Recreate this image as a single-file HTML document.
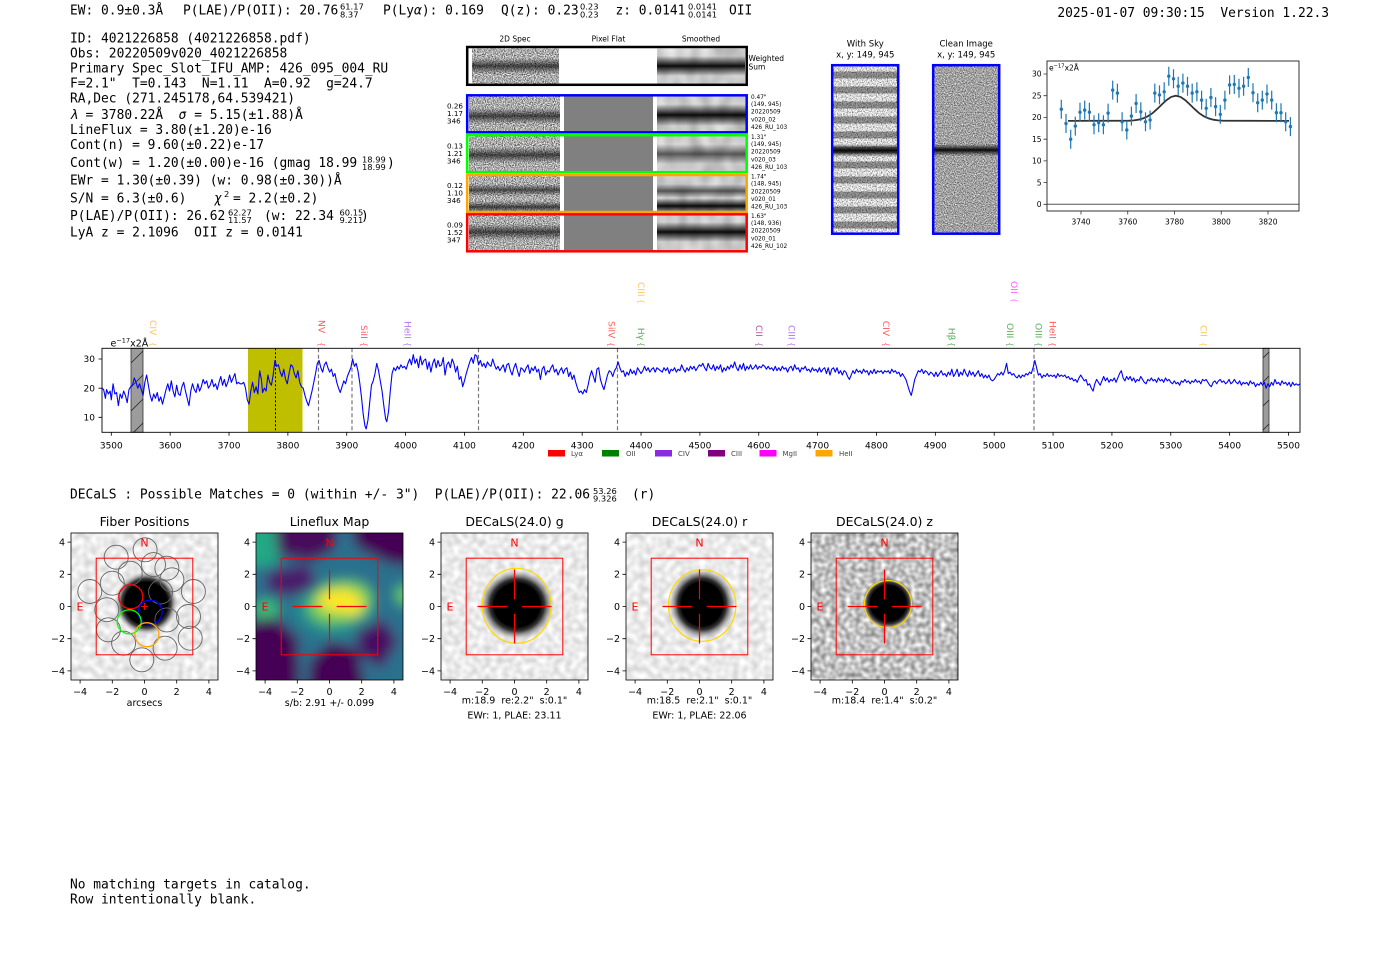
<!DOCTYPE html>
<html><head><meta charset="utf-8">
<style>
html,body{margin:0;padding:0;background:#fff;}
body{width:1400px;height:953px;overflow:hidden;}
svg{display:block}
text{white-space:pre;}
.m{font-family:"DejaVu Sans Mono","Liberation Mono",monospace;font-size:12.9px;fill:#000}
.s{font-family:"DejaVu Sans","Liberation Sans",sans-serif;}
.f{font-family:"DejaVu Sans","Liberation Sans",sans-serif;font-size:8.3px;fill:#000}
.t9{font-family:"DejaVu Sans","Liberation Sans",sans-serif;font-size:9.5px;fill:#000}
.t7{font-family:"DejaVu Sans","Liberation Sans",sans-serif;font-size:7.5px;fill:#000}
.t6{font-family:"DejaVu Sans","Liberation Sans",sans-serif;font-size:5.8px;fill:#000}
.ti{font-family:"DejaVu Sans","Liberation Sans",sans-serif;font-size:12.5px;fill:#000}
.ne{font-family:"DejaVu Sans","Liberation Sans",sans-serif;font-size:11px;fill:#ff0000}
</style></head><body>
<svg width="1400" height="953" viewBox="0 0 1400 953" xml:space="preserve">
<defs>
<filter id="n2d" x="0" y="0" width="1" height="1" color-interpolation-filters="sRGB">
<feTurbulence type="fractalNoise" baseFrequency="0.9" numOctaves="2" seed="3"/>
<feColorMatrix type="matrix" values="1.5 0 0 0 -0.08 1.5 0 0 0 -0.08 1.5 0 0 0 -0.08 0 0 0 0 1"/>
</filter>
<filter id="nsk" x="0" y="0" width="1" height="1" color-interpolation-filters="sRGB">
<feTurbulence type="fractalNoise" baseFrequency="0.8" numOctaves="2" seed="9"/>
<feColorMatrix type="matrix" values="1.4 0 0 0 0.15 1.4 0 0 0 0.15 1.4 0 0 0 0.15 0 0 0 0 1"/>
</filter>
<filter id="nsm" x="0" y="0" width="1" height="1" color-interpolation-filters="sRGB">
<feTurbulence type="fractalNoise" baseFrequency="0.09 0.05" numOctaves="1" seed="5"/>
<feColorMatrix type="matrix" values="0.35 0 0 0 0.62 0.35 0 0 0 0.62 0.35 0 0 0 0.62 0 0 0 0 1"/>
</filter>
<filter id="ncl" x="0" y="0" width="1" height="1" color-interpolation-filters="sRGB">
<feTurbulence type="fractalNoise" baseFrequency="0.9" numOctaves="2" seed="7"/>
<feColorMatrix type="matrix" values="1.2 0 0 0 0.03 1.2 0 0 0 0.03 1.2 0 0 0 0.03 0 0 0 0 1"/>
</filter>
<filter id="nlt" x="0" y="0" width="1" height="1" color-interpolation-filters="sRGB">
<feTurbulence type="fractalNoise" baseFrequency="0.15" numOctaves="1" seed="11"/>
<feColorMatrix type="matrix" values="0.3 0 0 0 0.77 0.3 0 0 0 0.77 0.3 0 0 0 0.77 0 0 0 0 1"/>
</filter>
<filter id="nlt2" x="0" y="0" width="1" height="1" color-interpolation-filters="sRGB">
<feTurbulence type="fractalNoise" baseFrequency="0.16" numOctaves="1" seed="21"/>
<feColorMatrix type="matrix" values="0.3 0 0 0 0.77 0.3 0 0 0 0.77 0.3 0 0 0 0.77 0 0 0 0 1"/>
</filter>
<filter id="nz" x="0" y="0" width="1" height="1" color-interpolation-filters="sRGB">
<feTurbulence type="fractalNoise" baseFrequency="0.2" numOctaves="1" seed="13"/>
<feColorMatrix type="matrix" values="0.8 0 0 0 0.36 0.8 0 0 0 0.36 0.8 0 0 0 0.36 0 0 0 0 1"/>
</filter>
<filter id="bl6" x="-0.2" y="-0.2" width="1.4" height="1.4"><feGaussianBlur stdDeviation="6"/></filter>
<linearGradient id="bd" x1="0" y1="0" x2="0" y2="1"><stop offset="0" stop-color="#000" stop-opacity="0"/><stop offset="0.5" stop-color="#000" stop-opacity="0.65"/><stop offset="1" stop-color="#000" stop-opacity="0"/></linearGradient>
<linearGradient id="bd2" x1="0" y1="0" x2="0" y2="1"><stop offset="0" stop-color="#000" stop-opacity="0"/><stop offset="0.5" stop-color="#000" stop-opacity="0.95"/><stop offset="1" stop-color="#000" stop-opacity="0"/></linearGradient>
<linearGradient id="bd3" x1="0" y1="0" x2="0" y2="1"><stop offset="0" stop-color="#000" stop-opacity="0"/><stop offset="0.5" stop-color="#000" stop-opacity="0.6"/><stop offset="1" stop-color="#000" stop-opacity="0"/></linearGradient>
<radialGradient id="blob"><stop offset="0" stop-color="#000"/><stop offset="0.66" stop-color="#000"/><stop offset="0.78" stop-color="#444"/><stop offset="0.9" stop-color="#999" stop-opacity="0.5"/><stop offset="1" stop-color="#ccc" stop-opacity="0"/></radialGradient>
<radialGradient id="blob2"><stop offset="0" stop-color="#000"/><stop offset="0.6" stop-color="#000"/><stop offset="0.72" stop-color="#333"/><stop offset="0.86" stop-color="#888" stop-opacity="0.6"/><stop offset="1" stop-color="#ccc" stop-opacity="0"/></radialGradient>
<radialGradient id="blob3"><stop offset="0" stop-color="#000"/><stop offset="0.68" stop-color="#000"/><stop offset="0.8" stop-color="#333"/><stop offset="0.92" stop-color="#777" stop-opacity="0.5"/><stop offset="1" stop-color="#999" stop-opacity="0"/></radialGradient>
<pattern id="sky" patternUnits="userSpaceOnUse" x="831" y="71.5" width="68" height="15"><rect width="68" height="7" fill="#000" fill-opacity="0.38"/></pattern>
<clipPath id="cp"><rect x="0" y="0" width="147" height="147"/></clipPath>
<clipPath id="spc"><rect x="102" y="348.3" width="1198" height="84"/></clipPath>
</defs>

<!-- ===== Top header line ===== -->
<text class="m" x="70" y="14.5">EW: 0.9±0.3Å</text>
<text class="m" x="183" y="14.5">P(LAE)/P(OII): 20.76</text>
<text class="f" x="340" y="9.5">61.17</text>
<text class="f" x="340" y="17.5">8.37</text>
<text class="m" x="383" y="14.5">P(Ly<tspan font-style="italic">α</tspan>): 0.169</text>
<text class="m" x="501" y="14.5">Q(z): 0.23</text>
<text class="f" x="580" y="9.5">0.23</text>
<text class="f" x="580" y="17.5">0.23</text>
<text class="m" x="615.5" y="14.5">z: 0.0141</text>
<text class="f" x="688" y="9.5">0.0141</text>
<text class="f" x="688" y="17.5">0.0141</text>
<text class="m" x="729" y="14.5">OII</text>
<text class="m" x="1329" y="17" text-anchor="end">2025-01-07 09:30:15  Version 1.22.3</text>

<!-- ===== Left text block ===== -->
<text class="m" x="70" y="42.5">ID: 4021226858 (4021226858.pdf)</text>
<text class="m" x="70" y="57.5">Obs: 20220509v020_4021226858</text>
<text class="m" x="70" y="72.5">Primary Spec_Slot_IFU_AMP: 426_095_004_RU</text>
<text class="m" x="70" y="87.5">F=2.1"  T=0.143  N=1.11  A=0.92  g=24.7</text>
<text class="m" x="70" y="102.5">RA,Dec (271.245178,64.539421)</text>
<text class="m" x="70" y="119"><tspan font-style="italic">λ</tspan> = 3780.22Å  <tspan font-style="italic">σ</tspan> = 5.15(±1.88)Å</text>
<text class="m" x="70" y="134">LineFlux = 3.80(±1.20)e-16</text>
<text class="m" x="70" y="149">Cont(n) = 9.60(±0.22)e-17</text>
<text class="m" x="70" y="167">Cont(w) = 1.20(±0.00)e-16 (gmag 18.99</text>
<text class="f" x="362" y="162.5">18.99</text>
<text class="f" x="362" y="170">18.99</text>
<text class="m" x="387" y="167">)</text>
<text class="m" x="70" y="184.5">EWr = 1.30(±0.39) (w: 0.98(±0.30))Å</text>
<text class="m" x="70" y="202.5">S/N = 6.3(±0.6)</text>
<text class="m" x="214" y="202.5" font-style="italic">χ</text>
<text class="f" x="224" y="197">2</text>
<text class="m" x="233" y="202.5">= 2.2(±0.2)</text>
<text class="m" x="70" y="220">P(LAE)/P(OII): 26.62</text>
<text class="f" x="228" y="215.5">62.27</text>
<text class="f" x="228" y="223">11.57</text>
<text class="m" x="264" y="220">(w: 22.34</text>
<text class="f" x="339.5" y="215.5">60.15</text>
<text class="f" x="339.5" y="223">9.211</text>
<text class="m" x="361" y="220">)</text>
<text class="m" x="70" y="236.5">LyA z = 2.1096  OII z = 0.0141</text>

<!-- ===== 2D cutouts ===== -->
<text class="t7" x="515" y="41.5" text-anchor="middle">2D Spec</text>
<text class="t7" x="608.5" y="41.5" text-anchor="middle">Pixel Flat</text>
<text class="t7" x="701" y="41.5" text-anchor="middle">Smoothed</text>

<!-- weighted sum -->
<rect x="472" y="48.5" width="87" height="35" fill="#fff" filter="url(#n2d)"/>
<rect x="472" y="58" width="87" height="16" fill="url(#bd)"/>
<rect x="657" y="48.5" width="88" height="35" fill="#fff" filter="url(#nsm)"/>
<rect x="657" y="56" width="88" height="20" fill="url(#bd2)"/>
<rect x="467.2" y="47" width="279.5" height="37.8" fill="none" stroke="#000" stroke-width="2.5"/>
<text class="t7" x="748.5" y="61">Weighted</text>
<text class="t7" x="748.5" y="69.5">Sum</text>

<!-- blue row -->
<rect x="469" y="95.8" width="91" height="35.5" fill="#fff" filter="url(#n2d)"/>
<rect x="469" y="108" width="91" height="16" fill="url(#bd)"/>
<rect x="564" y="95.8" width="89" height="35.5" fill="#808080"/>
<rect x="657" y="95.8" width="89" height="35.5" fill="#fff" filter="url(#nsm)"/>
<rect x="657" y="104" width="89" height="22" fill="url(#bd2)"/>
<rect x="467.2" y="95.3" width="279.5" height="37" fill="none" stroke="#0000ff" stroke-width="2.5"/>
<!-- green row -->
<rect x="469" y="135.5" width="91" height="35.5" fill="#fff" filter="url(#n2d)"/>
<rect x="469" y="147" width="91" height="16" fill="url(#bd)"/>
<rect x="564" y="135.5" width="89" height="35.5" fill="#808080"/>
<rect x="657" y="135.5" width="89" height="35.5" fill="#fff" filter="url(#nsm)"/>
<rect x="657" y="144" width="89" height="20" fill="url(#bd3)"/>
<rect x="467.2" y="135.2" width="279.5" height="37" fill="none" stroke="#00ff00" stroke-width="2.5"/>
<!-- orange row -->
<rect x="469" y="175.5" width="91" height="35.5" fill="#fff" filter="url(#n2d)"/>
<rect x="469" y="184" width="91" height="12" fill="url(#bd3)"/>
<rect x="469" y="201" width="91" height="12" fill="url(#bd)"/>
<rect x="564" y="175.5" width="89" height="35.5" fill="#808080"/>
<rect x="657" y="175.5" width="89" height="35.5" fill="#fff" filter="url(#nsm)"/>
<rect x="657" y="184" width="89" height="14" fill="url(#bd3)"/>
<rect x="657" y="198" width="89" height="16" fill="url(#bd2)"/>
<rect x="467.2" y="175" width="279.5" height="37" fill="none" stroke="#ffa500" stroke-width="2.5"/>
<!-- red row -->
<rect x="469" y="214.7" width="91" height="35.5" fill="#fff" filter="url(#n2d)"/>
<rect x="469" y="224" width="91" height="16" fill="url(#bd)"/>
<rect x="564" y="214.7" width="89" height="35.5" fill="#808080"/>
<rect x="657" y="214.7" width="89" height="35.5" fill="#fff" filter="url(#nsm)"/>
<rect x="657" y="222" width="89" height="20" fill="url(#bd2)"/>
<rect x="467.2" y="214.3" width="279.5" height="37" fill="none" stroke="#ff0000" stroke-width="2.5"/>

<!-- left labels -->
<g class="s" font-size="7.2" fill="#000">
<text x="447" y="108.5">0.26</text><text x="447" y="116">1.17</text><text x="447" y="123.5">346</text>
<text x="447" y="148.5">0.13</text><text x="447" y="156">1.21</text><text x="447" y="163.5">346</text>
<text x="447" y="188">0.12</text><text x="447" y="195.5">1.10</text><text x="447" y="203">346</text>
<text x="447" y="227.5">0.09</text><text x="447" y="235">1.52</text><text x="447" y="242.5">347</text>
</g>
<!-- right labels -->
<g class="t6">
<text x="751" y="98.8">0.47"</text><text x="751" y="106">(149, 945)</text><text x="751" y="113.7">20220509</text><text x="751" y="121.3">v020_02</text><text x="751" y="129">426_RU_103</text>
<text x="751" y="138.8">1.31"</text><text x="751" y="146">(149, 945)</text><text x="751" y="153.7">20220509</text><text x="751" y="161.3">v020_03</text><text x="751" y="169">426_RU_103</text>
<text x="751" y="178.5">1.74"</text><text x="751" y="185.7">(148, 945)</text><text x="751" y="193.4">20220509</text><text x="751" y="201">v020_01</text><text x="751" y="208.7">426_RU_103</text>
<text x="751" y="217.8">1.63"</text><text x="751" y="225">(148, 936)</text><text x="751" y="232.7">20220509</text><text x="751" y="240.3">v020_01</text><text x="751" y="248">426_RU_102</text>
</g>

<!-- ===== With Sky / Clean ===== -->
<text class="s" font-size="8.5" x="865.3" y="46.5" text-anchor="middle">With Sky</text>
<text class="s" font-size="8.5" x="865.3" y="57.5" text-anchor="middle">x, y: 149, 945</text>
<text class="s" font-size="8.5" x="966.2" y="46.5" text-anchor="middle">Clean Image</text>
<text class="s" font-size="8.5" x="966.2" y="57.5" text-anchor="middle">x, y: 149, 945</text>
<rect x="831" y="65" width="68" height="169" fill="#fff" filter="url(#nsk)"/>
<rect x="831" y="65" width="68" height="169" fill="url(#sky)"/>
<rect x="831" y="144" width="68" height="13" fill="url(#bd2)"/>
<rect x="832.2" y="65.2" width="66" height="168.5" fill="none" stroke="#0000ff" stroke-width="2.5"/>
<rect x="932" y="65" width="68" height="169" fill="#fff" filter="url(#ncl)"/>
<rect x="932" y="144" width="68" height="12" fill="url(#bd2)"/>
<rect x="933.2" y="65.2" width="66" height="168.5" fill="none" stroke="#0000ff" stroke-width="2.5"/>

<!-- ===== Small fit plot ===== -->
<line x1="1047" y1="204.3" x2="1299" y2="204.3" stroke="#555" stroke-width="1"/>
<path d="M1068 120.9L1129.1 120.7L1133.8 120.35L1138.4 119.7L1143.1 118.4L1147.8 116.3L1152.5 113.2L1157.1 109.1L1161.8 104.5L1166.5 100.1L1171.2 96.9L1175.8 95.7L1180.5 96.9L1185.2 100.1L1189.9 104.5L1194.6 109.1L1199.2 113.2L1203.9 116.3L1208.6 118.4L1213.3 119.7L1218 120.35L1222.6 120.7L1289 120.9" fill="none" stroke="#333" stroke-width="1.8"/>
<path d="M1061.3 99.7V118.7M1066 114V133M1070.7 129.7V148.7M1075.3 116.6V135.6M1080 102.7V121.7M1084.7 100.6V119.6M1089.4 102.7V121.7M1094 115.3V134.3M1098.7 113.2V132.2M1103.4 115.3V134.3M1108.1 103.6V122.6M1112.7 80.6V99.6M1117.4 83.6V102.6M1122.1 112.3V131.3M1126.8 120.5V139.5M1131.4 106.6V125.6M1136.1 94V113M1140.8 102.3V121.3M1145.5 112.3V131.3M1150.1 110.5V129.5M1154.8 83.6V102.6M1159.5 85.4V104.4M1164.2 82.3V101.3M1168.8 66.7V85.7M1173.5 69.3V88.3M1178.2 76.7V95.7M1182.9 73.6V92.6M1187.5 76.7V95.7M1192.2 83.6V102.6M1196.9 82.3V101.3M1201.6 90.6V109.6M1206.2 98.8V117.8M1210.9 88V107M1215.6 97.1V116.1M1220.3 104.9V123.9M1224.9 90.6V109.6M1229.6 75.4V94.4M1234.3 74.9V93.9M1239 78.8V97.8M1243.6 76.7V95.7M1248.3 68V87M1253 83.2V102.2M1257.7 93.2V112.2M1262.3 90.6V109.6M1267 84.5V103.5M1271.7 90.6V109.6M1276.4 103.2V122.2M1281 103.2V122.2M1285.7 112.3V131.3M1290.4 117.1V136.1" stroke="#1f77b4" stroke-width="1.2" fill="none"/>
<path d="M1061.3 109.2h0M1066 123.5h0M1070.7 139.2h0M1075.3 126.1h0M1080 112.2h0M1084.7 110.1h0M1089.4 112.2h0M1094 124.8h0M1098.7 122.7h0M1103.4 124.8h0M1108.1 113.1h0M1112.7 90.1h0M1117.4 93.1h0M1122.1 121.8h0M1126.8 130h0M1131.4 116.1h0M1136.1 103.5h0M1140.8 111.8h0M1145.5 121.8h0M1150.1 120h0M1154.8 93.1h0M1159.5 94.9h0M1164.2 91.8h0M1168.8 76.2h0M1173.5 78.8h0M1178.2 86.2h0M1182.9 83.1h0M1187.5 86.2h0M1192.2 93.1h0M1196.9 91.8h0M1201.6 100.1h0M1206.2 108.3h0M1210.9 97.5h0M1215.6 106.6h0M1220.3 114.4h0M1224.9 100.1h0M1229.6 84.9h0M1234.3 84.4h0M1239 88.3h0M1243.6 86.2h0M1248.3 77.5h0M1253 92.7h0M1257.7 102.7h0M1262.3 100.1h0M1267 94h0M1271.7 100.1h0M1276.4 112.7h0M1281 112.7h0M1285.7 121.8h0M1290.4 126.6h0" stroke="#1f77b4" stroke-width="3.4" stroke-linecap="round" fill="none"/>
<rect x="1047" y="61" width="252" height="150" fill="none" stroke="#333" stroke-width="1"/>
<path d="M1081 211v3.5M1127.75 211v3.5M1174.5 211v3.5M1221.25 211v3.5M1268 211v3.5M1047 204.3h-3.5M1047 182.6h-3.5M1047 160.9h-3.5M1047 139.2h-3.5M1047 117.4h-3.5M1047 95.7h-3.5M1047 74h-3.5" stroke="#333" stroke-width="0.8"/>
<g class="t7" text-anchor="middle">
<text x="1081" y="224.5">3740</text><text x="1127.75" y="224.5">3760</text><text x="1174.5" y="224.5">3780</text><text x="1221.25" y="224.5">3800</text><text x="1268" y="224.5">3820</text>
</g>
<g class="t7" text-anchor="end">
<text x="1041.5" y="207">0</text><text x="1041.5" y="185.3">5</text><text x="1041.5" y="163.6">10</text><text x="1041.5" y="141.9">15</text><text x="1041.5" y="120.1">20</text><text x="1041.5" y="98.4">25</text><text x="1041.5" y="76.7">30</text>
</g>
<text class="t7" x="1049" y="70.5">e<tspan font-size="5.2" dy="-3">−17</tspan><tspan dy="3">x2Å</tspan></text>

<!-- ===== Main spectrum ===== -->
<rect x="248" y="348.3" width="54.5" height="84" fill="#bfbf00"/>
<rect x="131" y="348.3" width="12" height="84" fill="#9c9c9c" stroke="#333" stroke-width="0.8"/>
<rect x="1263" y="348.3" width="6" height="84" fill="#9c9c9c" stroke="#333" stroke-width="0.8"/>
<g clip-path="url(#spc)" stroke="#222" stroke-width="0.8">
<path d="M131 363L143 351M131 387L143 375M131 411L143 399M131 435L143 423M1263 358L1269 352M1263 382L1269 376M1263 406L1269 400M1263 430L1269 424"/>
</g>
<g stroke="#777" stroke-width="1.2" stroke-dasharray="4 2.5">
<line x1="318.5" y1="348.3" x2="318.5" y2="432.3"/>
<line x1="352" y1="348.3" x2="352" y2="432.3"/>
<line x1="478.5" y1="348.3" x2="478.5" y2="432.3"/>
<line x1="617.5" y1="348.3" x2="617.5" y2="432.3"/>
<line x1="1034" y1="348.3" x2="1034" y2="432.3"/>
</g>
<line x1="275.5" y1="348.3" x2="275.5" y2="432.3" stroke="#000" stroke-width="1" stroke-dasharray="2 2"/>
<g clip-path="url(#spc)">
<polyline transform="matrix(0.5886 0 0 -2.915 -1948.8 446.45)" vector-effect="non-scaling-stroke" fill="none" stroke="#0000ff" stroke-width="1.1" stroke-linejoin="round" points="3478,20 3484,20 3487,19.5 3490,16.5 3492,19.5 3495,18 3498,19 3500,16 3503,21.5 3506,18 3509,18.5 3512,14 3515,18 3518,16.5 3521,19 3524,17.5 3527,15 3530,19.5 3533,20.5 3536,21 3539,23.5 3542,22 3545,20 3548,21.5 3551,19.5 3554,17.5 3557,22 3560,24.5 3563,21 3566,17.5 3569,15.5 3572,18 3575,16.5 3578,18.5 3581,15.5 3584,17 3587,14.5 3590,17 3593,19.5 3596,21.5 3599,19 3602,22.5 3605,19 3608,17 3611,21 3614,18 3617,17.5 3620,20.5 3623,22 3626,19 3629,16.5 3632,14 3635,19 3638,21.5 3641,19.5 3644,18.5 3647,21.5 3650,19 3653,20.5 3656,23 3659,21.5 3662,22.5 3665,20 3668,21 3671,23 3674,20.5 3677,21.5 3680,19.5 3683,22 3686,24 3689,21 3692,23 3695,20.5 3698,22 3701,24.5 3704,22 3707,23.5 3710,25 3713,21.5 3716,22 3719,21.5 3722,21.5 3725,22 3728,20 3731,16 3734,14.5 3737,19 3740,22 3743,18.5 3746,20.5 3749,18 3752,26 3755,23 3757,18.5 3760,20 3763,19 3766,24.5 3769,22 3772,21 3775,24.5 3778,29.5 3781,27.5 3784,28 3787,25.5 3790,24 3793,26.5 3796,23 3799,21.5 3802,25 3805,28 3808,27.5 3811,25 3814,23.5 3817,26 3820,22 3823,20.5 3826,20 3829,17.5 3832,15.5 3835,14 3838,16.5 3841,19 3844,22 3847,25 3850,28.5 3853,29.5 3856,27 3859,25.5 3862,28 3865,29 3868,27 3871,25.5 3874,26.5 3877,24 3880,25 3883,22 3886,20 3889,18.5 3892,20.5 3895,22.5 3898,21.5 3901,24 3904,25.5 3907,27 3910,30 3913,27.5 3916,28.5 3919,26 3922,22 3925,17 3928,11 3931,7 3933,6 3936,9 3939,15 3942,21 3945,22.5 3948,25 3951,28.5 3954,26 3957,22.5 3960,19 3963,14 3966,9.5 3968,8.5 3971,12 3974,19 3977,25 3980,27 3983,26 3986,27.5 3989,26.5 3992,28 3995,27 3998,27.5 4001,26.5 4004,28.5 4007,30 4010,28 4013,31.5 4016,28.5 4019,30 4022,27 4025,31 4028,28 4031,29.5 4034,30 4037,26.5 4040,29 4043,25.5 4046,28.5 4049,30 4052,27 4055,29.5 4058,27.5 4061,28 4064,30.5 4067,24.5 4070,28 4073,29 4076,27 4079,30 4082,28.5 4085,25.5 4088,27.5 4091,23 4094,24 4097,20.5 4100,22.5 4103,25 4106,27 4109,29 4112,30.5 4115,28.5 4118,31.5 4121,31 4124,28 4127,29.5 4130,27.5 4133,28.5 4136,27 4139,29 4142,28 4145,27.5 4148,30 4151,28 4154,26.5 4157,27.5 4160,26 4163,27 4166,28 4169,25.5 4172,28 4175,28.5 4178,26 4181,24.5 4184,27 4187,28.5 4190,26 4193,24 4196,27 4199,26.5 4202,25.5 4205,27 4208,28 4211,25 4214,27 4217,26 4220,27.5 4223,25.5 4226,26.5 4229,23 4232,26.5 4235,27.5 4238,24.5 4241,26 4244,25.5 4247,27 4250,28 4253,25.5 4256,26.5 4259,24.5 4262,26 4265,27 4268,25 4271,26.5 4274,27 4277,24 4280,25.5 4283,23 4286,24.5 4289,22 4292,20 4295,18.5 4298,19 4301,18 4304,19.5 4307,18.5 4310,21 4313,24 4316,26 4319,24 4322,22 4325,26.5 4328,27 4331,23 4334,21 4337,19.5 4340,22 4343,24.5 4346,26 4349,25.5 4352,24 4355,26 4358,27 4361,29 4364,27 4367,25.5 4370,26 4373,24 4376,25.5 4379,24.5 4382,26.5 4385,25 4388,26 4391,24.5 4394,27 4397,26 4400,25 4403,26 4406,27.5 4409,26 4412,27 4415,25.5 4418,26.5 4421,27 4424,25.5 4427,27 4430,26.5 4433,26 4436,25.5 4439,27 4442,26 4445,27 4448,25 4451,26.5 4454,26 4457,27 4460,25.5 4463,26.5 4466,26 4469,28 4472,26.5 4475,25.5 4478,27 4481,26 4484,27.5 4487,26.5 4490,27.5 4493,26 4496,27 4499,28 4502,27.5 4505,28.5 4508,27 4511,26 4514,28.5 4517,27 4520,26.5 4523,28 4526,26 4529,27.5 4532,26.5 4535,28 4538,25.5 4541,27 4544,26 4547,27.5 4550,26.5 4553,28 4556,27 4559,29 4562,27 4565,26 4568,28 4571,26.5 4574,28.5 4577,26 4580,27.5 4583,26.5 4586,28 4589,26.5 4592,27 4595,28 4598,26.5 4601,27.5 4604,27 4607,28 4610,27.5 4613,26.5 4616,27.5 4619,26.5 4622,27 4625,26 4628,27.5 4631,26 4634,27 4637,26 4640,27.5 4643,26.5 4646,27 4649,25.5 4652,27 4655,27.5 4658,26 4661,28 4664,26.5 4667,27 4670,25.5 4673,27 4676,26.5 4679,27.5 4682,26 4685,26.5 4688,25.5 4691,27 4694,26 4697,26.5 4700,25.5 4703,27 4706,25.5 4709,26.5 4712,27 4715,25 4718,27 4721,24.5 4724,26.5 4727,27 4730,25.5 4733,27 4736,25 4739,26 4742,24.5 4745,26 4748,25.5 4751,24 4754,23 4757,24.5 4760,26 4763,25 4766,26.5 4769,25.5 4772,26 4775,25 4778,26.5 4781,25.5 4784,26 4787,24.5 4790,26 4793,25 4796,26.5 4799,25 4802,26 4805,25.5 4808,26 4811,25 4814,26 4817,25.5 4820,26 4823,25 4826,26.5 4829,25.5 4832,26 4835,25 4838,25.5 4841,24 4844,25 4847,24 4850,23 4853,21 4856,19 4859,17.5 4862,20 4865,23 4868,24.5 4871,26 4874,25.5 4877,26.5 4880,25 4883,26 4886,25.5 4889,24.5 4892,25.5 4895,25 4898,24 4901,25.5 4904,24 4907,25 4910,26 4913,24.5 4916,25 4919,24 4922,25.5 4925,24.5 4928,26.5 4931,24 4934,25 4937,26.5 4940,24 4943,25.5 4946,24.5 4949,26.5 4952,25 4955,24 4958,26 4961,24.5 4964,25.5 4967,24 4970,25 4973,26 4976,24 4979,25 4982,23.5 4985,24.5 4988,23.5 4991,24.5 4994,23 4997,22.5 5000,23 5003,24 5006,25 5009,24.5 5012,25.5 5015,24.5 5018,26 5021,28.5 5024,25 5027,25.5 5030,24.5 5033,25 5036,24 5039,23.5 5042,24.5 5045,23.5 5048,24.5 5051,24 5054,25 5057,24.5 5060,25.5 5063,25 5066,27 5069,29.5 5072,27 5075,24.5 5078,25 5081,23.5 5084,24.5 5087,24 5090,25 5093,24 5096,24.5 5099,24 5102,24.5 5105,23.5 5108,25 5111,24 5114,24.5 5117,24 5120,24.5 5123,23.5 5126,24 5129,23 5132,23.5 5135,22.5 5138,23 5141,22 5144,23.5 5147,24.5 5150,23.5 5153,22.5 5156,23 5159,21 5162,21.5 5165,20 5168,19 5171,21.5 5174,23 5177,22 5180,21 5183,22.5 5186,24 5189,22.5 5192,23.5 5195,22 5198,23 5201,22.5 5204,23.5 5207,22 5210,23.5 5213,25 5216,26 5219,23.5 5222,22.5 5225,24 5228,23 5231,24 5234,22.5 5237,23.5 5240,22 5243,23 5246,22.5 5249,24 5252,23 5255,22 5258,21.5 5261,23 5264,22.5 5267,23.5 5270,22.5 5273,23 5276,22 5279,23.5 5282,22.5 5285,23 5288,22 5291,23.5 5294,22.5 5297,23 5300,22 5303,21.5 5306,22.5 5309,21.5 5312,22 5315,21 5318,22.5 5321,22 5324,23 5327,22 5330,22.5 5333,21.5 5336,22.5 5339,22 5342,23 5345,22 5348,22.5 5351,21.5 5354,23 5357,22.5 5360,23 5363,22 5366,21 5369,20.5 5372,22 5375,22.5 5378,21.5 5381,22.5 5384,23 5387,22 5390,22.5 5393,21.5 5396,22 5399,23 5402,21.5 5405,22 5408,23 5411,22 5414,21.5 5417,22.5 5420,21 5423,22 5426,21.5 5429,22 5432,21 5435,22.5 5438,21.5 5441,22 5444,20.5 5447,21.5 5450,21 5453,22 5456,21 5459,22 5462,20 5465,21.5 5468,20.5 5471,22 5474,21 5477,23 5480,21.5 5483,22 5486,21 5489,22.5 5492,21.5 5495,22 5498,21 5501,22 5504,20.5 5507,22 5510,21 5513,21.5 5516,21 5520,21.5 5525,21"/>
</g>
<rect x="102" y="348.3" width="1198" height="84" fill="none" stroke="#000" stroke-width="0.9"/>
<path d="M111.3 432.3v3.5M170.16 432.3v3.5M229.02 432.3v3.5M287.88 432.3v3.5M346.74 432.3v3.5M405.6 432.3v3.5M464.46 432.3v3.5M523.32 432.3v3.5M582.18 432.3v3.5M641.04 432.3v3.5M699.9 432.3v3.5M758.76 432.3v3.5M817.62 432.3v3.5M876.48 432.3v3.5M935.34 432.3v3.5M994.2 432.3v3.5M1053.06 432.3v3.5M1111.92 432.3v3.5M1170.78 432.3v3.5M1229.64 432.3v3.5M1288.5 432.3v3.5M102 359h-3.5M102 388.2h-3.5M102 417.3h-3.5" stroke="#000" stroke-width="0.8"/>
<g class="s" font-size="9" fill="#000" text-anchor="middle">
<text x="111.3" y="448.5">3500</text><text x="170.16" y="448.5">3600</text><text x="229.02" y="448.5">3700</text><text x="287.88" y="448.5">3800</text><text x="346.74" y="448.5">3900</text><text x="405.6" y="448.5">4000</text><text x="464.46" y="448.5">4100</text><text x="523.32" y="448.5">4200</text><text x="582.18" y="448.5">4300</text><text x="641.04" y="448.5">4400</text><text x="699.9" y="448.5">4500</text><text x="758.76" y="448.5">4600</text><text x="817.62" y="448.5">4700</text><text x="876.48" y="448.5">4800</text><text x="935.34" y="448.5">4900</text><text x="994.2" y="448.5">5000</text><text x="1053.06" y="448.5">5100</text><text x="1111.92" y="448.5">5200</text><text x="1170.78" y="448.5">5300</text><text x="1229.64" y="448.5">5400</text><text x="1288.5" y="448.5">5500</text>
</g>
<g class="s" font-size="9" fill="#000" text-anchor="end">
<text x="95" y="362.2">30</text><text x="95" y="391.4">20</text><text x="95" y="420.5">10</text>
</g>
<text class="s" font-size="9.5" x="110.5" y="346.5">e<tspan font-size="6.5" dy="-4">−17</tspan><tspan dy="4">x2Å</tspan></text>

<!-- line labels -->
<g class="s" font-size="9.2" opacity="0.65">
<text fill="#ffa500" transform="translate(150,320) rotate(90)">CIV</text>
<text fill="#ff0000" transform="translate(318.6,320) rotate(90)">NV</text>
<text fill="#ff0000" transform="translate(361.1,325) rotate(90)">SiII</text>
<text fill="#8a2be2" transform="translate(404.4,321) rotate(90)">HeII</text>
<text fill="#ffa500" transform="translate(638.1,282) rotate(90)">CIII</text>
<text fill="#ff0000" transform="translate(608.3,321) rotate(90)">SiIV</text>
<text fill="#008000" transform="translate(638.1,327.7) rotate(90)">Hγ</text>
<text fill="#800080" transform="translate(756,325) rotate(90)">CII</text>
<text fill="#8a2be2" transform="translate(788.6,325) rotate(90)">CIII</text>
<text fill="#ff0000" transform="translate(883,320.7) rotate(90)">CIV</text>
<text fill="#008000" transform="translate(948.6,327.7) rotate(90)">Hβ</text>
<text fill="#ff00ff" transform="translate(1011.2,281) rotate(90)">OII</text>
<text fill="#008000" transform="translate(1007.2,323) rotate(90)">OIII</text>
<text fill="#008000" transform="translate(1035.6,323) rotate(90)">OIII</text>
<text fill="#ff0000" transform="translate(1049.6,321) rotate(90)">HeII</text>
<text fill="#ffa500" transform="translate(1200.6,325) rotate(90)">CII</text>
</g>
<g class="s" font-size="7.5" opacity="0.65">
<text fill="#ffa500" transform="translate(150.5,342) rotate(90)">{</text>
<text fill="#ff0000" transform="translate(319,342) rotate(90)">{</text>
<text fill="#ff0000" transform="translate(361.5,342) rotate(90)">{</text>
<text fill="#8a2be2" transform="translate(404.8,342) rotate(90)">{</text>
<text fill="#ffa500" transform="translate(638.5,299) rotate(90)">{</text>
<text fill="#ff0000" transform="translate(608.7,342) rotate(90)">{</text>
<text fill="#008000" transform="translate(638.5,342) rotate(90)">{</text>
<text fill="#800080" transform="translate(756.4,342) rotate(90)">{</text>
<text fill="#8a2be2" transform="translate(789,342) rotate(90)">{</text>
<text fill="#ff0000" transform="translate(883.4,342) rotate(90)">{</text>
<text fill="#008000" transform="translate(949,342) rotate(90)">{</text>
<text fill="#ff00ff" transform="translate(1011.6,299) rotate(90)">(</text>
<text fill="#008000" transform="translate(1007.6,342) rotate(90)">{</text>
<text fill="#008000" transform="translate(1036,342) rotate(90)">{</text>
<text fill="#ff0000" transform="translate(1050,342) rotate(90)">{</text>
<text fill="#ffa500" transform="translate(1201,342) rotate(90)">{</text>
</g>

<!-- legend -->
<rect x="548" y="450" width="17" height="6.5" fill="#ff0000"/>
<rect x="602" y="450" width="17" height="6.5" fill="#008000"/>
<rect x="655" y="450" width="17" height="6.5" fill="#8a2be2"/>
<rect x="708" y="450" width="17" height="6.5" fill="#800080"/>
<rect x="759.5" y="450" width="17" height="6.5" fill="#ff00ff"/>
<rect x="815.5" y="450" width="17" height="6.5" fill="#ffa500"/>
<g class="s" font-size="7" fill="#444">
<text x="571" y="456">Lyα</text><text x="626" y="456">OII</text><text x="678" y="456">CIV</text><text x="731" y="456">CIII</text><text x="782.5" y="456">MgII</text><text x="839" y="456">HeII</text>
</g>

<!-- ===== DECaLS line ===== -->
<text class="m" x="70" y="498.5">DECaLS : Possible Matches = 0 (within +/- 3")  P(LAE)/P(OII): 22.06</text>
<text class="f" x="593" y="494">53.26</text>
<text class="f" x="593" y="501.5">9.326</text>
<text class="m" x="632" y="498.5">(r)</text>

<!-- ===== Panel 1: Fiber Positions ===== -->
<g transform="translate(71,533)">
<g clip-path="url(#cp)">
<rect width="147" height="147" fill="#fff" filter="url(#nlt)"/>
<circle cx="75.2" cy="70.2" r="32" fill="url(#blob)"/>
<g fill="none" stroke="#666" stroke-width="0.9">
<circle cx="45.2" cy="24.2" r="12"/><circle cx="74.1" cy="16.8" r="12"/><circle cx="59.2" cy="40.2" r="12"/><circle cx="82.5" cy="31.6" r="12"/><circle cx="41.3" cy="50.2" r="12"/><circle cx="18.8" cy="58.5" r="12"/><circle cx="100.9" cy="46.8" r="12"/><circle cx="122.4" cy="58.5" r="12"/><circle cx="35.8" cy="76.7" r="12"/><circle cx="117.5" cy="83.5" r="12"/><circle cx="37.4" cy="96.8" r="12"/><circle cx="95.9" cy="86.9" r="12"/><circle cx="52.6" cy="110.2" r="12"/><circle cx="119.2" cy="105.2" r="12"/><circle cx="94.1" cy="115.2" r="12"/><circle cx="70.8" cy="126.8" r="12"/><circle cx="89.6" cy="59" r="12"/><circle cx="95.9" cy="35.2" r="12"/>
</g>
<g fill="none" stroke-width="1.3">
<circle cx="59.8" cy="63.8" r="12" stroke="#ff0000"/>
<circle cx="79.1" cy="79.1" r="12" stroke="#0000ff"/>
<circle cx="58.2" cy="88.8" r="12" stroke="#00ff00"/>
<circle cx="75.9" cy="101.7" r="12" stroke="#ffa500"/>
</g>
<rect x="25.2" y="25.2" width="96.6" height="96.6" fill="none" stroke="#ff0000" stroke-width="1"/>
<path d="M70 73.5h7M73.5 70v7" stroke="#ff0000" stroke-width="1"/>
<text class="ne" x="73.5" y="13.7" text-anchor="middle">N</text>
<text class="ne" x="9" y="77.5" text-anchor="middle">E</text>
</g>
<rect x="0" y="0" width="147" height="147" fill="none" stroke="#000" stroke-width="0.8"/>
<path d="M9.1 147v3.5M41.3 147v3.5M73.5 147v3.5M105.7 147v3.5M137.9 147v3.5M0 9.1h-3.5M0 41.3h-3.5M0 73.5h-3.5M0 105.7h-3.5M0 137.9h-3.5" stroke="#000" stroke-width="0.8"/>
<g class="t9" text-anchor="middle"><text x="9.1" y="162">−4</text><text x="41.3" y="162">−2</text><text x="73.5" y="162">0</text><text x="105.7" y="162">2</text><text x="137.9" y="162">4</text></g>
<g class="t9" text-anchor="end"><text x="-6" y="12.5">4</text><text x="-6" y="44.7">2</text><text x="-6" y="76.9">0</text><text x="-6" y="109.1">−2</text><text x="-6" y="141.3">−4</text></g>
<text class="ti" x="73.5" y="-7" text-anchor="middle">Fiber Positions</text>
<text class="t9" x="73.5" y="173" text-anchor="middle">arcsecs</text>
</g>

<!-- ===== Panel 2: Lineflux Map ===== -->
<g transform="translate(256,533)">
<g clip-path="url(#cp)">
<g filter="url(#bl6)">
<rect x="-20" y="-20" width="187" height="187" fill="#2c718e"/>
<ellipse cx="78" cy="75" rx="42" ry="30" fill="#23898e"/>
<ellipse cx="5" cy="12" rx="24" ry="22" fill="#22a884"/>
<polygon points="18,-20 85,-20 78,18 55,28 22,22" fill="#46085c"/>
<polygon points="92,-20 170,-20 170,36 132,30 100,14" fill="#440154"/>
<polygon points="12,38 52,30 62,52 38,64 10,58" fill="#481a6c"/>
<ellipse cx="10" cy="77" rx="13" ry="11" fill="#3dbc74"/>
<polygon points="-20,92 18,84 42,104 44,170 -20,170" fill="#440154"/>
<polygon points="54,128 74,108 102,116 112,170 50,170" fill="#440154"/>
<polygon points="100,98 128,86 142,108 126,136 104,122" fill="#471063"/>
<ellipse cx="150" cy="62" rx="11" ry="10" fill="#5ec962"/>
<ellipse cx="84" cy="70" rx="33" ry="21" fill="#6ccd5a" transform="rotate(-15 84 70)"/>
<ellipse cx="84" cy="68" rx="22" ry="12" fill="#fde725"/>
<ellipse cx="96" cy="73" rx="11" ry="9" fill="#fde725"/>
</g>
<rect x="25.2" y="25.2" width="96.6" height="96.6" fill="none" stroke="#ff0000" stroke-width="1"/>
<path d="M36.5 73.5H66.3M80.7 73.5H110.5M73.5 36.5V66.3M73.5 80.7V110.5" stroke="#ff0000" stroke-width="1.2"/>
<text class="ne" x="73.5" y="13.7" text-anchor="middle">N</text>
<text class="ne" x="9" y="77.5" text-anchor="middle">E</text>
</g>
<rect x="0" y="0" width="147" height="147" fill="none" stroke="#000" stroke-width="0.8"/>
<path d="M9.1 147v3.5M41.3 147v3.5M73.5 147v3.5M105.7 147v3.5M137.9 147v3.5M0 9.1h-3.5M0 41.3h-3.5M0 73.5h-3.5M0 105.7h-3.5M0 137.9h-3.5" stroke="#000" stroke-width="0.8"/>
<g class="t9" text-anchor="middle"><text x="9.1" y="162">−4</text><text x="41.3" y="162">−2</text><text x="73.5" y="162">0</text><text x="105.7" y="162">2</text><text x="137.9" y="162">4</text></g>
<g class="t9" text-anchor="end"><text x="-6" y="12.5">4</text><text x="-6" y="44.7">2</text><text x="-6" y="76.9">0</text><text x="-6" y="109.1">−2</text><text x="-6" y="141.3">−4</text></g>
<text class="ti" x="73.5" y="-7" text-anchor="middle">Lineflux Map</text>
<text class="t9" x="73.5" y="173" text-anchor="middle">s/b: 2.91 +/- 0.099</text>
</g>

<!-- ===== Panel 3: DECaLS g ===== -->
<g transform="translate(441,533)">
<g clip-path="url(#cp)">
<rect width="147" height="147" fill="#fff" filter="url(#nlt2)"/>
<ellipse cx="76" cy="72" rx="38" ry="36" fill="url(#blob2)"/>
<ellipse cx="75.7" cy="72.8" rx="34.4" ry="37.5" fill="none" stroke="#ffd700" stroke-width="1.2"/>
<rect x="25.2" y="25.2" width="96.6" height="96.6" fill="none" stroke="#ff0000" stroke-width="1"/>
<path d="M36.5 73.5H66.3M80.7 73.5H110.5M73.5 36.5V66.3M73.5 80.7V110.5" stroke="#ff0000" stroke-width="1.2"/>
<text class="ne" x="73.5" y="13.7" text-anchor="middle">N</text>
<text class="ne" x="9" y="77.5" text-anchor="middle">E</text>
</g>
<rect x="0" y="0" width="147" height="147" fill="none" stroke="#000" stroke-width="0.8"/>
<path d="M9.1 147v3.5M41.3 147v3.5M73.5 147v3.5M105.7 147v3.5M137.9 147v3.5M0 9.1h-3.5M0 41.3h-3.5M0 73.5h-3.5M0 105.7h-3.5M0 137.9h-3.5" stroke="#000" stroke-width="0.8"/>
<g class="t9" text-anchor="middle"><text x="9.1" y="162">−4</text><text x="41.3" y="162">−2</text><text x="73.5" y="162">0</text><text x="105.7" y="162">2</text><text x="137.9" y="162">4</text></g>
<g class="t9" text-anchor="end"><text x="-6" y="12.5">4</text><text x="-6" y="44.7">2</text><text x="-6" y="76.9">0</text><text x="-6" y="109.1">−2</text><text x="-6" y="141.3">−4</text></g>
<text class="ti" x="73.5" y="-7" text-anchor="middle">DECaLS(24.0) g</text>
<text class="t9" x="73.5" y="170.5" text-anchor="middle">m:18.9  re:2.2"  s:0.1"</text>
<text class="t9" x="73.5" y="185.5" text-anchor="middle">EWr: 1, PLAE: 23.11</text>
</g>

<!-- ===== Panel 4: DECaLS r ===== -->
<g transform="translate(626,533)">
<g clip-path="url(#cp)">
<rect width="147" height="147" fill="#fff" filter="url(#nlt)"/>
<ellipse cx="76" cy="71" rx="34" ry="36" fill="url(#blob2)"/>
<ellipse cx="76.2" cy="72.5" rx="33.7" ry="35.8" fill="none" stroke="#ffd700" stroke-width="1.2"/>
<rect x="25.2" y="25.2" width="96.6" height="96.6" fill="none" stroke="#ff0000" stroke-width="1"/>
<path d="M36.5 73.5H66.3M80.7 73.5H110.5M73.5 36.5V66.3M73.5 80.7V110.5" stroke="#ff0000" stroke-width="1.2"/>
<text class="ne" x="73.5" y="13.7" text-anchor="middle">N</text>
<text class="ne" x="9" y="77.5" text-anchor="middle">E</text>
</g>
<rect x="0" y="0" width="147" height="147" fill="none" stroke="#000" stroke-width="0.8"/>
<path d="M9.1 147v3.5M41.3 147v3.5M73.5 147v3.5M105.7 147v3.5M137.9 147v3.5M0 9.1h-3.5M0 41.3h-3.5M0 73.5h-3.5M0 105.7h-3.5M0 137.9h-3.5" stroke="#000" stroke-width="0.8"/>
<g class="t9" text-anchor="middle"><text x="9.1" y="162">−4</text><text x="41.3" y="162">−2</text><text x="73.5" y="162">0</text><text x="105.7" y="162">2</text><text x="137.9" y="162">4</text></g>
<g class="t9" text-anchor="end"><text x="-6" y="12.5">4</text><text x="-6" y="44.7">2</text><text x="-6" y="76.9">0</text><text x="-6" y="109.1">−2</text><text x="-6" y="141.3">−4</text></g>
<text class="ti" x="73.5" y="-7" text-anchor="middle">DECaLS(24.0) r</text>
<text class="t9" x="73.5" y="170.5" text-anchor="middle">m:18.5  re:2.1"  s:0.1"</text>
<text class="t9" x="73.5" y="185.5" text-anchor="middle">EWr: 1, PLAE: 22.06</text>
</g>

<!-- ===== Panel 5: DECaLS z ===== -->
<g transform="translate(811,533)">
<g clip-path="url(#cp)">
<rect width="147" height="147" fill="#fff" filter="url(#nz)"/>
<circle cx="77.3" cy="70.3" r="26" fill="url(#blob3)"/>
<circle cx="77" cy="71" r="23.5" fill="none" stroke="#ffd700" stroke-width="1.2"/>
<rect x="25.2" y="25.2" width="96.6" height="96.6" fill="none" stroke="#ff0000" stroke-width="1"/>
<path d="M36.5 73.5H66.3M80.7 73.5H110.5M73.5 36.5V66.3M73.5 80.7V110.5" stroke="#ff0000" stroke-width="1.2"/>
<text class="ne" x="73.5" y="13.7" text-anchor="middle">N</text>
<text class="ne" x="9" y="77.5" text-anchor="middle">E</text>
</g>
<rect x="0" y="0" width="147" height="147" fill="none" stroke="#000" stroke-width="0.8"/>
<path d="M9.1 147v3.5M41.3 147v3.5M73.5 147v3.5M105.7 147v3.5M137.9 147v3.5M0 9.1h-3.5M0 41.3h-3.5M0 73.5h-3.5M0 105.7h-3.5M0 137.9h-3.5" stroke="#000" stroke-width="0.8"/>
<g class="t9" text-anchor="middle"><text x="9.1" y="162">−4</text><text x="41.3" y="162">−2</text><text x="73.5" y="162">0</text><text x="105.7" y="162">2</text><text x="137.9" y="162">4</text></g>
<g class="t9" text-anchor="end"><text x="-6" y="12.5">4</text><text x="-6" y="44.7">2</text><text x="-6" y="76.9">0</text><text x="-6" y="109.1">−2</text><text x="-6" y="141.3">−4</text></g>
<text class="ti" x="73.5" y="-7" text-anchor="middle">DECaLS(24.0) z</text>
<text class="t9" x="73.5" y="170.5" text-anchor="middle">m:18.4  re:1.4"  s:0.2"</text>
</g>

<!-- ===== Bottom text ===== -->
<text class="m" x="70" y="888.5">No matching targets in catalog.</text>
<text class="m" x="70" y="903.5">Row intentionally blank.</text>
</svg>
</body></html>
